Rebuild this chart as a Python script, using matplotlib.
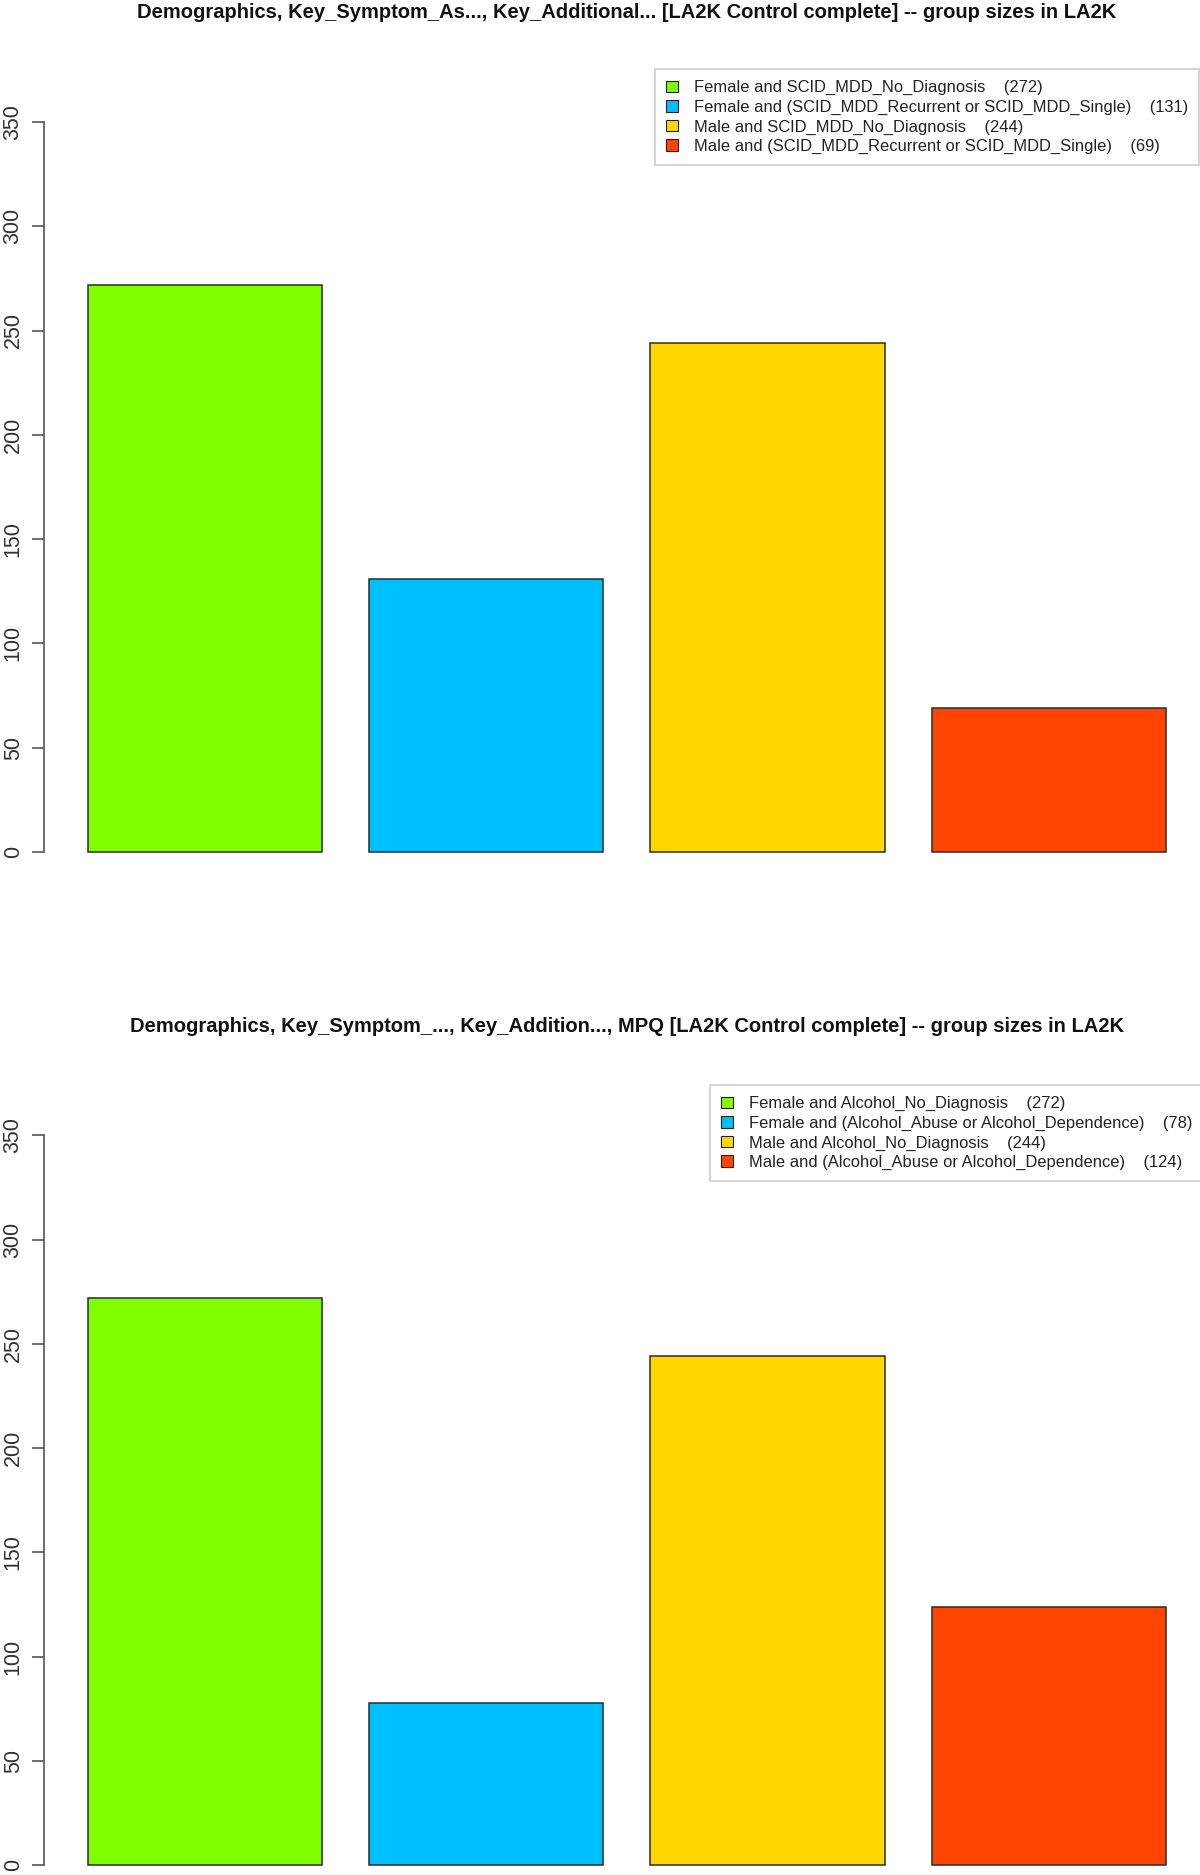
import matplotlib
matplotlib.use("Agg")
import matplotlib.pyplot as plt
from matplotlib.patches import Patch

plt.rcParams['font.family'] = ['Liberation Sans', 'DejaVu Sans']

# ---------------- data ----------------
titles = [
    "Demographics, Key_Symptom_As..., Key_Additional... [LA2K Control complete] -- group sizes in LA2K",
    "Demographics, Key_Symptom_..., Key_Addition..., MPQ [LA2K Control complete] -- group sizes in LA2K",
]
groups_top = [
    "Female and SCID_MDD_No_Diagnosis",
    "Female and (SCID_MDD_Recurrent or SCID_MDD_Single)",
    "Male and SCID_MDD_No_Diagnosis",
    "Male and (SCID_MDD_Recurrent or SCID_MDD_Single)",
]
counts_top = [272, 131, 244, 69]
groups_bottom = [
    "Female and Alcohol_No_Diagnosis",
    "Female and (Alcohol_Abuse or Alcohol_Dependence)",
    "Male and Alcohol_No_Diagnosis",
    "Male and (Alcohol_Abuse or Alcohol_Dependence)",
]
counts_bottom = [272, 78, 244, 124]
colors = ["#7FFF00", "#00BFFF", "#FFD700", "#FF4500"]
yticks = [0, 50, 100, 150, 200, 250, 300, 350]

# ---------------- layout ----------------
W, H = 1200, 1875
fig = plt.figure(figsize=(W / 100, H / 100), dpi=100)

px_per_x = 234.4
px_per_y = 2.086
x_left = 0.0137
x_right = 4.986
ax_left_px = 44
ax_w_px = (x_right - x_left) * px_per_x

panels = [
    dict(title=titles[0], groups=groups_top, counts=counts_top, y0=852, top=55,
         title_y=13, title_w=974, leg=(655, 69)),
    dict(title=titles[1], groups=groups_bottom, counts=counts_bottom, y0=1865.3, top=1100,
         title_y=1026, title_w=990, leg=(710, 1085)),
]

renderer = fig.canvas.get_renderer()

for p in panels:
    ymin = -4
    bottom_px = p["y0"] - ymin * px_per_y
    ax_h_px = bottom_px - p["top"]
    ymax = ymin + ax_h_px / px_per_y
    ax = fig.add_axes([ax_left_px / W, 1 - bottom_px / H, ax_w_px / W, ax_h_px / H])
    n = len(p["counts"])
    xs = [0.7 + 1.2 * i for i in range(n)]
    ax.bar(xs, p["counts"], width=1.0, color=colors, edgecolor="#2b2b2b", linewidth=1.1)
    ax.set_xlim(x_left, x_right)
    ax.set_ylim(ymin, ymax)
    for s in ["top", "right", "bottom"]:
        ax.spines[s].set_visible(False)
    ax.spines["left"].set_bounds(0, 350)
    ax.spines["left"].set_color("#555555")
    ax.spines["left"].set_linewidth(1.2)
    ax.set_xticks([])
    ax.set_yticks(yticks)
    ax.set_yticklabels([str(t) for t in yticks], rotation=90, va="center",
                       fontsize=15.5, color="#333333")
    ax.tick_params(axis="y", length=8.6, width=1.2, color="#555555", pad=6)

    # legend
    handles = [Patch(facecolor=c, edgecolor="#222222", linewidth=0.8) for c in colors]
    labels = [f"{g}    ({v})" for g, v in zip(p["groups"], p["counts"])]
    lx, ly = p["leg"]
    leg = ax.legend(handles, labels, loc="upper left",
                    bbox_to_anchor=(lx / W, 1 - ly / H), bbox_transform=fig.transFigure,
                    frameon=True, fancybox=False, fontsize=11.9,
                    handlelength=0.7, handleheight=0.7, handletextpad=0.95,
                    labelspacing=0.27, borderpad=0.68, borderaxespad=0)
    leg.get_frame().set_edgecolor("#c0c0c0")
    leg.get_frame().set_linewidth(1.2)
    for t in leg.get_texts():
        t.set_color("#222222")

    # title, fitted to the reference width
    t = fig.text(627 / W, 1 - p["title_y"] / H, p["title"], ha="center", va="center",
                 fontsize=12, fontweight="bold", color="#111111")
    wpx = t.get_window_extent(renderer=renderer).width
    t.set_fontsize(12 * p["title_w"] / wpx)

fig.savefig("out.png", dpi=100)
